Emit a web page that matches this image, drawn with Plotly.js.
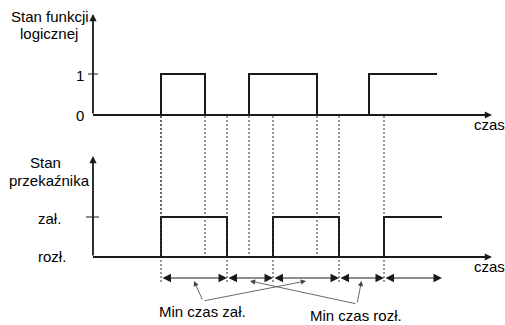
<!DOCTYPE html>
<html><head><meta charset="utf-8">
<script src="https://cdn.plot.ly/plotly-3.0.1.min.js"></script>
<style>html,body{margin:0;padding:0;background:#fff}</style>
</head><body><div id="chart" style="width:505px;height:325px"></div>
<script>
// ---- data (time units) ----
const logicTimes  = [0, 68, 112, 156, 224, 276, 344];
const logicStates = [0, 1, 0, 1, 0, 1, 1];
const relayTimes  = [0, 68, 134, 180, 246, 291, 349];
const relayStates = [0, 1, 0, 1, 0, 1, 1];
const logicGuides = [68, 112, 156, 224];
const relayGuides = [68, 134, 180, 246, 291];
const minOnSegments  = [0, 2];   // relay intervals labelled "Min czas zał."
const minOffSegments = [1, 3];   // relay intervals labelled "Min czas rozł."
const topTitle = ['Stan funkcji', 'logicznej'];
const bottomTitle = ['Stan', 'przekaźnika'];
const logicTickLabels = ['0', '1'];
const relayTickLabels = ['rozł.', 'zał.'];
const timeLabel = 'czas';
const noteLabels = ['Min czas zał.', 'Min czas rozł.'];

// ---- layout helpers (pixel geometry) ----
const W = 505, H = 325, X0 = 93;
const TOP0 = 115, TOP1 = 74, BOT0 = 257, BOT1 = 217;
const yT = py => (py - TOP0) / (TOP1 - TOP0);
const yB = py => (py - BOT0) / (BOT1 - BOT0);
const tX = px => px - X0;
const pX = px => px / W, pY = py => 1 - py / H;
const FONT = {family: 'Liberation Sans, Arial, sans-serif', size: 15, color: '#000'};
const INK = '#1a1a1a';

const traces = [
  {x: logicTimes, y: logicStates, xaxis: 'x', yaxis: 'y', mode: 'lines',
   line: {shape: 'hv', color: INK, width: 2}, hoverinfo: 'skip'},
  {x: relayTimes, y: relayStates, xaxis: 'x', yaxis: 'y2', mode: 'lines',
   line: {shape: 'hv', color: INK, width: 2}, hoverinfo: 'skip'}
];

const shapes = [];
logicGuides.forEach(t => shapes.push({type: 'line', xref: 'x', yref: 'y2', x0: t, x1: t,
  y0: yB(116), y1: yB(257), line: {color: '#333', width: 1, dash: '2px,2px'}}));
relayGuides.forEach(t => shapes.push({type: 'line', xref: 'x', yref: 'y2', x0: t, x1: t,
  y0: yB(116), y1: yB(284), line: {color: '#333', width: 1, dash: '2px,2px'}}));
// tick marks
shapes.push({type: 'line', xref: 'x', yref: 'y', x0: tX(88), x1: tX(98), y0: 1, y1: 1, line: {color: INK, width: 1}});
shapes.push({type: 'line', xref: 'x', yref: 'y2', x0: tX(86), x1: tX(99), y0: 1, y1: 1, line: {color: INK, width: 1}});

const ann = [];
function arrow(x, y, ax, ay, yref, opts) {
  ann.push(Object.assign({text: '', showarrow: true, xref: 'x', yref: yref, axref: 'x', ayref: yref,
    x: x, y: y, ax: ax, ay: ay, arrowcolor: INK, arrowhead: 2, arrowwidth: 1, arrowsize: 1,
    standoff: 0, startstandoff: 0}, opts || {}));
}
// axes with arrow heads
arrow(tX(492), 0, 0, 0, 'y', {arrowwidth: 1.8, arrowsize: 0.8});
arrow(0, yT(14), 0, 0, 'y', {arrowwidth: 1.8, arrowsize: 0.8});
arrow(tX(492), 0, 0, 0, 'y2', {arrowwidth: 1.8, arrowsize: 0.8});
arrow(0, yB(156), 0, 0, 'y2', {arrowwidth: 1.8, arrowsize: 0.8});
// interval double arrows
const rowY = yB(278);
const intervals = [];
for (let i = 1; i < relayTimes.length - 1; i++) intervals.push([relayTimes[i], relayTimes[i + 1]]);
intervals.forEach(([a, b]) => arrow(b, rowY, a, rowY, 'y2',
  {arrowside: 'end+start', arrowhead: 2, startarrowhead: 2, arrowsize: 1.7, startarrowsize: 1.7}));
// leader lines
const tipY = yB(281);
const vA = [tX(203), yB(301)], vB = [tX(357), yB(304)];
minOnSegments.forEach(i => arrow((intervals[i][0] + intervals[i][1]) / 2, tipY, vA[0], vA[1], 'y2',
  {arrowcolor: '#444', arrowwidth: 0.8, arrowsize: 1.3}));
minOffSegments.forEach(i => arrow((intervals[i][0] + intervals[i][1]) / 2, tipY, vB[0], vB[1], 'y2',
  {arrowcolor: '#444', arrowwidth: 0.8, arrowsize: 1.3}));

function label(text, cx, cy, xanchor) {
  ann.push({text: text, showarrow: false, xref: 'paper', yref: 'paper', x: pX(cx), y: pY(cy),
    xanchor: xanchor || 'center', yanchor: 'middle', font: FONT});
}
label(topTitle[0], 50, 16.5);
label(topTitle[1], 49, 33.5);
label(logicTickLabels[1], 86, 75, 'right');
label(logicTickLabels[0], 86, 115.5, 'right');
label(bottomTitle[0], 45, 163);
label(bottomTitle[1], 49, 180);
label(relayTickLabels[1], 49, 218);
label(relayTickLabels[0], 52, 256);
label(timeLabel, 489, 124.5);
label(timeLabel, 489, 266.5);
label(noteLabels[0], 202, 311);
label(noteLabels[1], 356, 315);

const hidden = {visible: false, showgrid: false, zeroline: false, fixedrange: true};
const layout = {
  width: W, height: H, margin: {l: 0, r: 0, t: 0, b: 0},
  paper_bgcolor: '#fff', plot_bgcolor: '#fff', showlegend: false, font: FONT,
  xaxis: Object.assign({range: [tX(0), tX(W)], domain: [0, 1]}, hidden),
  yaxis: Object.assign({range: [yT(H), yT(0)], domain: [0, 1]}, hidden),
  yaxis2: Object.assign({range: [yB(H), yB(0)], domain: [0, 1], overlaying: 'y'}, hidden),
  shapes: shapes, annotations: ann
};
Plotly.newPlot('chart', traces, layout, {staticPlot: true, displayModeBar: false});
</script></body></html>
